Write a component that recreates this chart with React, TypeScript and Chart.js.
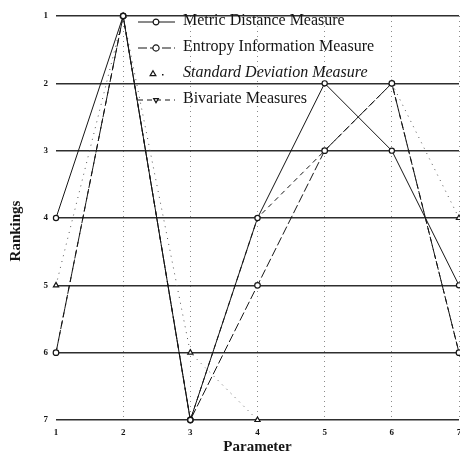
import React, { useEffect, useRef } from "react";
import { Chart, registerables } from "chart.js";

Chart.register(...registerables);

// ---- data ----
const parameters = [1, 2, 3, 4, 5, 6, 7];
const metricDistance = [4, 1, 7, 4, 2, 3, 5];
const entropyInformation = [6, 1, 7, 5, 3, 2, 6];
const standardDeviation = [5, 1, 6, 7, null, 2, 4];
const bivariate = [6, 1, 7, 4, 3, 2, 6];
const seriesLabels = [
  "Metric Distance Measure",
  "Entropy Information Measure",
  "Standard Deviation Measure",
  "Bivariate Measures",
];
const rankTicks = [1, 2, 3, 4, 5, 6, 7];
const xTitle = "Parameter";
const yTitle = "Rankings";

const SERIF = "'Liberation Serif', 'DejaVu Serif', serif";
const INK = "#151515";

const toPoints = (vals: (number | null)[]) =>
  parameters.map((x, i) => ({ x, y: vals[i] }));

function drawMarker(ctx: CanvasRenderingContext2D, style: string, x: number, y: number, r: number, fill: string, rot = 0) {
  ctx.save();
  ctx.setLineDash([]);
  ctx.translate(x, y);
  ctx.rotate((rot * Math.PI) / 180);
  ctx.beginPath();
  if (style === "triangle") {
    ctx.moveTo(0, -r);
    ctx.lineTo(r * 0.87, r * 0.5);
    ctx.lineTo(-r * 0.87, r * 0.5);
    ctx.closePath();
  } else if (style === "rect") {
    ctx.rect(-r * 0.8, -r * 0.8, r * 1.6, r * 1.6);
  } else {
    ctx.arc(0, 0, r, 0, Math.PI * 2);
  }
  ctx.fillStyle = fill;
  ctx.fill();
  ctx.lineWidth = 1.2;
  ctx.strokeStyle = INK;
  ctx.stroke();
  ctx.restore();
}

const insideLegend = {
  id: "insideLegend",
  afterDatasetsDraw(chart: any) {
    const ctx: CanvasRenderingContext2D = chart.ctx;
    const { left, top } = chart.chartArea;
    chart.data.datasets.forEach((ds: any, i: number) => {
      const y = top + 6 + i * 26;
      const x0 = left + 82;
      const x1 = left + 119;
      ctx.save();
      if (ds.showSampleLine !== false) {
        ctx.beginPath();
        ctx.setLineDash(ds.borderDash || []);
        ctx.strokeStyle = INK;
        ctx.lineWidth = 1;
        ctx.moveTo(x0, y);
        ctx.lineTo(x1, y);
        ctx.stroke();
      } else {
        ctx.fillStyle = INK;
        ctx.fillRect(left + 106, y, 1.5, 1.5);
      }
      drawMarker(ctx, ds.pointStyle, left + (i === 2 ? 97 : 100), y, ds.pointRadius + 0.3, ds.pointBackgroundColor, ds.pointRotation || 0);
      ctx.font = `${i === 2 ? "italic " : ""}16px ${SERIF}`;
      ctx.fillStyle = INK;
      ctx.textBaseline = "middle";
      ctx.textAlign = "left";
      ctx.fillText(ds.label, left + 127, y - 1);
      ctx.restore();
    });
  },
};

const yTitlePlugin = {
  id: "yTitle",
  afterDraw(chart: any) {
    const ctx: CanvasRenderingContext2D = chart.ctx;
    const { top, bottom } = chart.chartArea;
    ctx.save();
    ctx.translate(16, (top + bottom) / 2 + 13);
    ctx.rotate(-Math.PI / 2);
    ctx.font = `bold 15px ${SERIF}`;
    ctx.fillStyle = INK;
    ctx.textAlign = "center";
    ctx.textBaseline = "middle";
    ctx.fillText(yTitle, 0, 0);
    ctx.restore();
  },
};

export default function App() {
  const ref = useRef<HTMLCanvasElement>(null);

  useEffect(() => {
    const common = {
      borderColor: INK,
      borderWidth: 1,
      pointBorderColor: INK,
      pointBorderWidth: 1.2,
      tension: 0,
      clip: false as any,
      spanGaps: false,
    };
    const chart = new Chart(ref.current as HTMLCanvasElement, {
      type: "line",
      data: {
        datasets: [
          {
            ...common,
            label: seriesLabels[0],
            data: toPoints(metricDistance),
            pointStyle: "circle",
            pointRadius: 2.6,
            pointBackgroundColor: "#ffffff",
            borderDash: [],
          },
          {
            ...common,
            label: seriesLabels[1],
            data: toPoints(entropyInformation),
            pointStyle: "circle",
            pointRadius: 2.8,
            pointBackgroundColor: "#ffffff",
            borderDash: [9, 3],
          },
          {
            ...common,
            label: seriesLabels[2],
            data: toPoints(standardDeviation),
            pointStyle: "triangle",
            pointRadius: 3,
            pointBackgroundColor: "#ffffff",
            borderColor: "#555",
            borderDash: [1, 5],
            showSampleLine: false,
          } as any,
          {
            ...common,
            label: seriesLabels[3],
            data: toPoints(bivariate),
            pointStyle: "triangle",
            pointRotation: 180,
            pointRadius: 2.4,
            pointBackgroundColor: "#ffffff",
            borderDash: [5, 4],
          },
        ],
      },
      options: {
        animation: false,
        responsive: false,
        devicePixelRatio: 1,
        layout: { padding: { left: 0, top: 16, right: 11, bottom: 0 } },
        plugins: {
          legend: { display: false },
          tooltip: { enabled: false },
        },
        scales: {
          x: {
            type: "linear",
            min: parameters[0],
            max: parameters[parameters.length - 1],
            afterFit: (s: any) => {
              s.height = 37;
            },
            ticks: {
              stepSize: 1,
              padding: 7,
              color: INK,
              font: { family: SERIF, size: 9, weight: "bold" },
            },
            grid: {
              drawTicks: false,
              lineWidth: 1,
              color: (c: any) => (c.tick && c.tick.value === parameters[0] ? "rgba(0,0,0,0)" : "#8a8a8a"),
            },
            border: { display: false, dash: [1, 4] },
            title: {
              display: true,
              text: xTitle,
              color: INK,
              font: { family: SERIF, size: 15, weight: "bold" },
              padding: { top: 0, bottom: 1 },
            },
          },
          y: {
            type: "linear",
            reverse: true,
            min: rankTicks[0],
            max: rankTicks[rankTicks.length - 1],
            afterFit: (s: any) => {
              s.width = 56;
            },
            afterBuildTicks: (s: any) => {
              s.ticks = rankTicks.map((v) => ({ value: v }));
            },
            ticks: {
              padding: 8,
              color: INK,
              font: { family: SERIF, size: 9, weight: "bold" },
            },
            grid: {
              drawTicks: false,
              lineWidth: 1.5,
              color: "#2e2e2e",
            },
            border: { display: false },
          },
        },
      },
      plugins: [insideLegend, yTitlePlugin],
    } as any);
    return () => chart.destroy();
  }, []);

  return (
    <div style={{ position: "fixed", left: 0, top: 0, width: 470, height: 457, background: "#fff" }}>
      <canvas ref={ref} width={470} height={457} style={{ display: "block" }} />
    </div>
  );
}
